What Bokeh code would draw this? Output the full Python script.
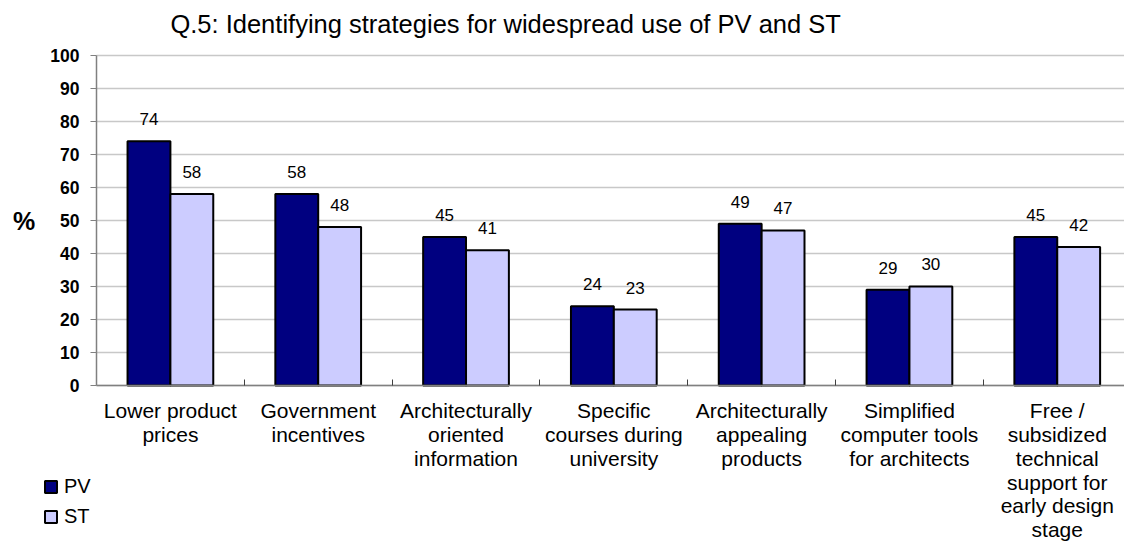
from bokeh.plotting import figure
from bokeh.models import (ColumnDataSource, FixedTicker, Range1d, LabelSet, Legend,
                          LegendItem, Label)
from bokeh.core.properties import value
from bokeh.embed import file_html
from bokeh.resources import INLINE

categories = [
    "Lower product\nprices",
    "Government\nincentives",
    "Architecturally\noriented\ninformation",
    "Specific\ncourses during\nuniversity",
    "Architecturally\nappealing\nproducts",
    "Simplified\ncomputer tools\nfor architects",
    "Free /\nsubsidized\ntechnical\nsupport for\nearly design\nstage",
]
pv = [74, 58, 45, 24, 49, 29, 45]
st = [58, 48, 41, 23, 47, 30, 42]
y_ticks = [0, 10, 20, 30, 40, 50, 60, 70, 80, 90, 100]
series_names = ["PV", "ST"]
title_text = "Q.5: Identifying strategies for widespread use of PV and ST"

FONT = "Liberation Sans"
BAR_W = 0.29

n = len(categories)
centers = [i + 0.5 for i in range(n)]
bounds = [float(i) for i in range(1, n)]

pv_src = ColumnDataSource(dict(x=[c - BAR_W / 2 for c in centers], top=pv,
                               txt=[str(v) for v in pv]))
st_src = ColumnDataSource(dict(x=[c + BAR_W / 2 for c in centers], top=st,
                               txt=[str(v) for v in st]))
grid_src = ColumnDataSource(dict(y=y_ticks, x0=[0] * len(y_ticks), x1=[n] * len(y_ticks)))

# frame covers the whole canvas; axes are pinned at data 0
p = figure(width=1124, height=542, output_backend="svg", toolbar_location=None,
           x_range=Range1d(-0.6495, 6.955), y_range=Range1d(-47.58, 116.67),
           min_border=0, min_border_left=0, min_border_right=0,
           min_border_top=0, min_border_bottom=0)
p.outline_line_color = None
p.xgrid.visible = False
p.ygrid.visible = False

# horizontal grid lines from the y ticks
p.segment(x0="x0", x1="x1", y0="y", y1="y", source=grid_src, line_color="#c8c8c8",
          line_width=1.5, level="underlay")

r1 = p.vbar(x="x", top="top", width=BAR_W, source=pv_src, fill_color="#000080",
            line_color="black", line_width=2)
r2 = p.vbar(x="x", top="top", width=BAR_W, source=st_src, fill_color="#CCCCFF",
            line_color="black", line_width=2)

for src in (pv_src, st_src):
    p.add_layout(LabelSet(x="x", y="top", text="txt", source=src, text_align="center",
                          text_baseline="alphabetic", y_offset=16,
                          text_font_size=value("17px"), text_font=value(FONT),
                          text_color="black"))

p.add_layout(Label(x=0.5, y=109.4, text=title_text, text_align="left",
                   text_baseline="alphabetic", text_font=FONT,
                   text_font_size="25.5px", text_color="black"))

ya = p.yaxis[0]
ya.fixed_location = 0
ya.bounds = (0, 100)
ya.ticker = FixedTicker(ticks=y_ticks)
ya.axis_line_color = "#808080"
ya.axis_line_width = 1.5
ya.major_tick_line_color = "#808080"
ya.major_tick_out = 6
ya.major_tick_in = 0
ya.minor_tick_line_color = None
ya.major_label_text_font = FONT
ya.major_label_text_font_size = "17.5px"
ya.major_label_text_font_style = "bold"
ya.major_label_text_color = "black"
ya.major_label_standoff = 11
ya.axis_label = "%"
ya.axis_label_orientation = "horizontal"
ya.axis_label_text_font = FONT
ya.axis_label_text_font_size = "25px"
ya.axis_label_text_font_style = "bold"
ya.axis_label_text_color = "black"
ya.axis_label_standoff = 12

xa = p.xaxis[0]
xa.fixed_location = 0
xa.bounds = (0, n)
xa.ticker = FixedTicker(ticks=centers, minor_ticks=bounds)
xa.major_label_overrides = {c: lab for c, lab in zip(centers, categories)}
xa.axis_line_color = "#808080"
xa.axis_line_width = 1.5
xa.major_tick_line_color = None
xa.minor_tick_line_color = "#404040"
xa.minor_tick_in = 6
xa.minor_tick_out = 0
xa.major_label_text_font = FONT
xa.major_label_text_font_size = "21px"
xa.major_label_text_line_height = 1.03
xa.major_label_text_color = "black"
xa.major_label_standoff = 8

legend = Legend(items=[LegendItem(label=series_names[0], renderers=[r1]),
                       LegendItem(label=series_names[1], renderers=[r2])],
                location=(43, 14), orientation="vertical",
                glyph_width=15, glyph_height=15, label_standoff=6,
                label_height=24, spacing=6, padding=0, margin=0,
                border_line_color=None, background_fill_alpha=0,
                label_text_font=FONT, label_text_font_size="20px",
                label_text_color="black")
p.add_layout(legend, "center")

open("out.html", "w").write(file_html(p, INLINE))
